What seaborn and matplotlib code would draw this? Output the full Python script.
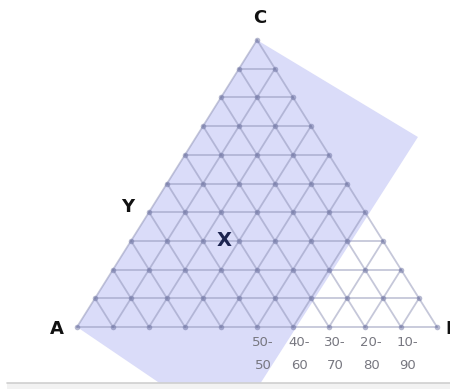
import numpy as np
import pandas as pd
import matplotlib
matplotlib.use("Agg")
import matplotlib.pyplot as plt
import seaborn as sns

# triangle grid: 10 steps per side, A-B base, C apex
n_div = 10
vertex_names = ["A", "B", "C"]
vertex_xy = [(-0.56, -0.07), (10.22, -0.07), (5.08, 10.77)]
side_label = "Y"
side_label_xy = (1.42, 4.18)
point_label = "X"
point_xy = (4.1, 3.0)

# composition labels under the base
comp_top = ["50-", "40-", "30-", "20-", "10-"]
comp_bottom = ["50", "60", "70", "80", "90"]
comp_x = [5.17, 6.17, 7.17, 8.17, 9.17]

# shaded (blue) region, in grid units
shade_x = [0.0, 5.0, 9.47, 4.25]
shade_y = [0.0, 10.0, 6.62, -3.62]

sns.set_theme(style="white")
plt.rcParams["font.family"] = ["DejaVu Sans"]

fig = plt.figure(figsize=(4.5, 3.89), dpi=100)
ax = fig.add_axes([0, 0, 1, 1])
ax.set_xlim(-2.139, 10.361)
ax.set_ylim(-2.16, 11.394)
ax.axis("off")

ax.fill(shade_x, shade_y, color="#dadcf9", lw=0, zorder=1)

# build the grid segments
segs = []
for k in range(n_div + 1):
    # horizontal rows
    segs.append((k, "h", k / 2, k, n_div - k / 2, k))
    # parallel to AC
    segs.append((k, "l", k, 0, k + (n_div - k) / 2, n_div - k))
    # parallel to BC
    segs.append((k, "r", k, 0, k / 2, k))
rows = []
for i, (k, kind, x0, y0, x1, y1) in enumerate(segs):
    rows.append({"seg": i, "x": x0, "y": y0})
    rows.append({"seg": i, "x": x1, "y": y1})
grid = pd.DataFrame(rows)
sns.lineplot(data=grid, x="x", y="y", units="seg", estimator=None, sort=False,
             color="#8c90b4", alpha=0.5, lw=1.3, ax=ax, zorder=2, legend=False)

pts = pd.DataFrame([{"x": i + r / 2, "y": r}
                    for r in range(n_div + 1) for i in range(n_div - r + 1)])
sns.scatterplot(data=pts, x="x", y="y", s=16, color="#6a70a0", alpha=0.5,
                linewidth=0, ax=ax, zorder=3)

for name, (x, y) in zip(vertex_names, vertex_xy):
    ha = "left" if name == "B" else "center"
    ax.text(x, y, name, fontsize=13, fontweight="heavy", color="#111111",
            ha=ha, va="center", zorder=5)
ax.text(*side_label_xy, side_label, fontsize=13, fontweight="heavy",
        color="#111111", ha="center", va="center", zorder=5)
ax.text(*point_xy, point_label, fontsize=14, fontweight="heavy",
        color="#1c2450", ha="center", va="center", zorder=5)

for x, t, b in zip(comp_x, comp_top, comp_bottom):
    ax.text(x, -0.55, t, fontsize=9.5, color="#777780", ha="center", va="center", zorder=5)
    ax.text(x, -1.35, b, fontsize=9.5, color="#777780", ha="center", va="center", zorder=5)

# frame edge strip at the bottom
ax.fill_between([-1.95, 10.4], -2.2, -1.95, color="#f2f2f2", lw=0, zorder=6)
ax.plot([-1.95, 10.4], [-1.95, -1.95], color="#cfcfcf", lw=1.2, zorder=7)

fig.savefig("out.png", dpi=100)
